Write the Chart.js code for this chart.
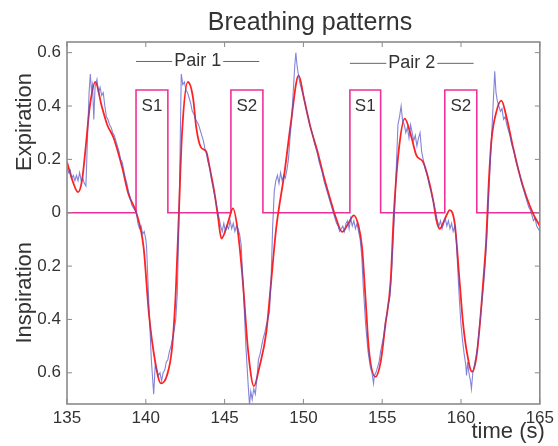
<!DOCTYPE html>
<html>
<head>
<meta charset="utf-8">
<script src="https://cdn.jsdelivr.net/npm/chart.js@4"></script>
<style>
    html, body { margin:0; padding:0; background:#fff; }
    #wrap { width:558px; height:446px; }
</style>
</head>
<body>
<div id="wrap"><canvas id="grafico" width="558" height="446"></canvas></div>
<script>

// =====================================
// DADOS
// =====================================

const xTicks = [135,140,145,150,155,160,165];
const yTicks = [-0.6,-0.4,-0.2,0,0.2,0.4,0.6];

// curva ajustada (vermelho)
const fitT = [
    135.0,135.35,135.7,135.95,136.16,136.45,136.8,137.2,137.55,137.96,
    138.5,138.9,139.4,139.86,140.2,140.6,140.96,141.34,141.66,141.9,
    142.1,142.3,142.67,143.0,143.2,143.5,143.83,144.05,144.37,144.58,
    144.8,145.2,145.53,145.84,146.16,146.48,146.86,147.2,147.64,147.95,
    148.27,148.8,149.2,149.7,150.03,150.45,150.87,151.3,151.72,152.04,
    152.46,152.85,153.2,153.5,153.72,153.94,154.15,154.57,154.9,155.2,
    155.53,155.74,156.05,156.43,156.85,157.17,157.6,157.9,158.23,158.44,
    158.65,159.0,159.29,159.6,159.92,160.13,160.35,160.7,160.98,161.2,
    161.4,161.6,161.75,161.93,162.25,162.56,162.88,163.3,163.7,164.15,
    164.57,165.0
];
const fitV = [
    0.19,0.12,0.077,0.12,0.23,0.40,0.49,0.40,0.33,0.28,
    0.17,0.07,0.0,-0.13,-0.38,-0.56,-0.64,-0.61,-0.51,-0.30,
    0.0,0.30,0.49,0.43,0.32,0.245,0.23,0.17,0.07,-0.015,
    -0.097,-0.04,0.016,-0.07,-0.26,-0.51,-0.65,-0.58,-0.45,-0.26,
    -0.06,0.15,0.335,0.515,0.43,0.32,0.234,0.134,0.047,-0.015,
    -0.072,-0.04,-0.01,-0.05,-0.13,-0.32,-0.51,-0.615,-0.56,-0.42,
    -0.26,0.0,0.234,0.353,0.284,0.215,0.19,0.134,0.047,-0.028,
    -0.06,-0.02,0.01,-0.04,-0.265,-0.415,-0.515,-0.596,-0.54,-0.415,
    -0.265,-0.1,0.1,0.27,0.38,0.42,0.36,0.246,0.147,0.06,
    -0.003,-0.05
];

// respiracao medida (azul)
const rawT = [
    135.0,135.1,135.2,135.3,135.4,135.5,135.6,135.7,135.8,135.9,
    136.0,136.1,136.2,136.3,136.4,136.48,136.55,136.62,136.7,136.78,
    136.9,137.0,137.1,137.2,137.3,137.4,137.5,137.6,137.7,137.8,
    137.9,138.0,138.1,138.2,138.3,138.4,138.5,138.6,138.7,138.8,
    138.9,139.0,139.1,139.2,139.3,139.4,139.5,139.6,139.7,139.8,
    139.9,140.0,140.05,140.2,140.35,140.5,140.6,140.7,140.8,140.9,
    141.0,141.1,141.2,141.3,141.4,141.5,141.6,141.7,141.8,141.9,
    142.0,142.1,142.18,142.25,142.35,142.45,142.55,142.65,142.75,142.85,
    142.95,143.05,143.15,143.25,143.35,143.45,143.55,143.65,143.75,143.85,
    143.95,144.05,144.15,144.25,144.35,144.45,144.55,144.65,144.75,144.85,
    144.95,145.05,145.15,145.25,145.35,145.45,145.55,145.65,145.75,145.85,
    145.95,146.05,146.2,146.35,146.5,146.58,146.66,146.75,146.85,146.95,
    147.05,147.15,147.25,147.35,147.45,147.55,147.65,147.75,147.85,147.95,
    148.05,148.15,148.25,148.35,148.45,148.55,148.65,148.75,148.85,148.95,
    149.05,149.15,149.25,149.35,149.45,149.52,149.6,149.7,149.8,149.9,
    150.0,150.1,150.2,150.3,150.4,150.5,150.6,150.7,150.8,150.9,
    151.0,151.1,151.2,151.3,151.4,151.5,151.6,151.7,151.8,151.9,
    152.0,152.1,152.2,152.3,152.4,152.5,152.6,152.7,152.8,152.9,
    153.0,153.1,153.2,153.3,153.4,153.5,153.6,153.7,153.8,153.95,
    154.1,154.25,154.35,154.45,154.5,154.6,154.7,154.8,154.9,155.0,
    155.1,155.2,155.3,155.4,155.5,155.6,155.7,155.8,155.9,156.0,
    156.1,156.2,156.3,156.4,156.5,156.6,156.7,156.8,156.9,157.0,
    157.1,157.2,157.3,157.4,157.5,157.6,157.7,157.8,157.9,158.0,
    158.1,158.2,158.3,158.4,158.5,158.6,158.7,158.8,158.9,159.0,
    159.1,159.2,159.3,159.4,159.5,159.6,159.7,159.8,159.9,160.0,
    160.1,160.2,160.3,160.35,160.42,160.5,160.6,160.66,160.75,160.85,
    160.95,161.05,161.15,161.25,161.35,161.45,161.55,161.65,161.75,161.85,
    161.95,162.05,162.14,162.22,162.3,162.4,162.5,162.6,162.7,162.8,
    162.9,163.0,163.1,163.2,163.3,163.4,163.5,163.6,163.7,163.8,
    163.9,164.0,164.1,164.2,164.3,164.4,164.5,164.6,164.7,164.8,
    164.9,165.0
];
const rawV = [
    0.17,0.15,0.16,0.13,0.14,0.12,0.14,0.12,0.15,0.12,
    0.13,0.11,0.10,0.28,0.45,0.52,0.46,0.48,0.35,0.47,
    0.50,0.45,0.47,0.44,0.45,0.40,0.36,0.35,0.33,0.32,
    0.30,0.29,0.27,0.25,0.23,0.20,0.19,0.16,0.13,0.11,
    0.08,0.06,0.03,0.02,0.01,0.00,-0.04,-0.06,-0.05,-0.08,
    -0.07,-0.10,-0.13,-0.35,-0.55,-0.68,-0.57,-0.59,-0.61,-0.60,
    -0.63,-0.60,-0.59,-0.56,-0.55,-0.52,-0.50,-0.47,-0.44,-0.40,
    -0.30,-0.05,0.25,0.52,0.48,0.49,0.46,0.45,0.43,0.41,
    0.38,0.37,0.35,0.34,0.33,0.31,0.29,0.27,0.24,0.22,
    0.19,0.17,0.13,0.10,0.07,0.04,0.01,-0.02,-0.05,-0.07,
    -0.04,-0.07,-0.05,-0.06,-0.03,-0.06,-0.04,-0.07,-0.05,-0.06,
    -0.08,-0.12,-0.30,-0.50,-0.65,-0.72,-0.67,-0.70,-0.66,-0.68,
    -0.62,-0.55,-0.53,-0.50,-0.47,-0.45,-0.42,-0.40,-0.37,-0.25,
    -0.05,0.08,0.12,0.14,0.11,0.15,0.12,0.14,0.13,0.16,
    0.20,0.28,0.35,0.45,0.55,0.60,0.55,0.51,0.48,0.46,
    0.44,0.41,0.38,0.36,0.33,0.31,0.29,0.26,0.24,0.22,
    0.19,0.17,0.15,0.12,0.10,0.08,0.06,0.04,0.02,0.00,
    -0.02,-0.04,-0.05,-0.07,-0.06,-0.05,-0.07,-0.04,-0.03,-0.06,
    -0.02,-0.05,-0.03,-0.06,-0.04,-0.07,-0.10,-0.16,-0.28,-0.42,
    -0.52,-0.58,-0.60,-0.64,-0.61,-0.60,-0.58,-0.56,-0.52,-0.49,
    -0.46,-0.41,-0.38,-0.34,-0.31,-0.22,-0.10,0.02,0.18,0.33,
    0.36,0.40,0.34,0.33,0.30,0.32,0.28,0.33,0.30,0.27,
    0.29,0.25,0.28,0.30,0.23,0.20,0.17,0.15,0.13,0.10,
    0.08,0.05,0.03,0.00,-0.03,-0.05,-0.03,-0.06,-0.04,-0.02,
    -0.05,-0.03,-0.06,-0.04,-0.07,-0.05,-0.10,-0.22,-0.33,-0.42,
    -0.48,-0.53,-0.57,-0.61,-0.56,-0.60,-0.63,-0.66,-0.60,-0.57,
    -0.54,-0.50,-0.44,-0.38,-0.32,-0.26,-0.18,-0.08,0.05,0.18,
    0.30,0.42,0.53,0.45,0.42,0.40,0.38,0.39,0.35,0.36,
    0.33,0.31,0.29,0.26,0.24,0.22,0.19,0.17,0.15,0.12,
    0.10,0.08,0.06,0.04,0.02,0.01,-0.01,-0.03,-0.02,-0.05,
    -0.06,-0.07
];

// estimulos (rosa)
const stimOn     = [139.38,145.4,152.95,158.97];
const stimOff    = [141.4,147.43,154.9,161.0];
const stimLabels = ["S1","S2","S1","S2"];
const stimLevel  = 0.46;

// pares
const pairLabels = ["Pair 1","Pair 2"];
const pairStart  = [139.38,152.95];
const pairEnd    = [147.2,160.8];
const pairLevel  = [0.567,0.56];


// =====================================
// MONTAGEM DAS SERIES
// =====================================

const fitData = fitT.map((t,i)=>({x:t,y:fitV[i]}));
const rawData = rawT.map((t,i)=>({x:t,y:rawV[i]}));

const stimData = [{x:xTicks[0],y:0}];
stimOn.forEach((t,i)=>{
    stimData.push({x:t,y:0});
    stimData.push({x:t,y:stimLevel});
    stimData.push({x:stimOff[i],y:stimLevel});
    stimData.push({x:stimOff[i],y:0});
});
stimData.push({x:xTicks[xTicks.length-1],y:0});


// =====================================
// MOLDURA / TEXTOS
// =====================================

const FONTE = "'Liberation Sans', Arial, sans-serif";
const CINZA = "#8a8a8a";
const TEXTO = "#333";

const moldura = {

    id:"moldura",

    afterDraw(chart){

        const ctx = chart.ctx;
        const a = chart.chartArea;
        const sx = chart.scales.x;
        const sy = chart.scales.y;

        ctx.save();

        // caixa
        ctx.strokeStyle = CINZA;
        ctx.lineWidth = 1.6;
        ctx.strokeRect(a.left,a.top,a.right-a.left,a.bottom-a.top);

        // ticks para dentro
        ctx.lineWidth = 1;
        ctx.beginPath();
        xTicks.forEach(v=>{
            const px = sx.getPixelForValue(v);
            ctx.moveTo(px,a.bottom); ctx.lineTo(px,a.bottom-5);
            ctx.moveTo(px,a.top);    ctx.lineTo(px,a.top+5);
        });
        yTicks.forEach(v=>{
            const py = sy.getPixelForValue(v);
            ctx.moveTo(a.left,py);  ctx.lineTo(a.left+5,py);
            ctx.moveTo(a.right,py); ctx.lineTo(a.right-5,py);
        });
        ctx.stroke();

        // titulo
        ctx.fillStyle = TEXTO;
        ctx.font = "25px " + FONTE;
        ctx.textAlign = "center";
        ctx.textBaseline = "alphabetic";
        ctx.fillText("Breathing patterns",310,30);

        // eixos
        ctx.textBaseline = "middle";
        ctx.font = "22px " + FONTE;
        ctx.save();
        ctx.translate(25,sy.getPixelForValue(0.34));
        ctx.rotate(-Math.PI/2);
        ctx.fillText("Expiration",0,0);
        ctx.restore();

        ctx.save();
        ctx.translate(25,sy.getPixelForValue(-0.30));
        ctx.rotate(-Math.PI/2);
        ctx.fillText("Inspiration",0,0);
        ctx.restore();

        ctx.textAlign = "right";
        ctx.fillText("time (s)",a.right+5,432);

        // rotulos dos estimulos
        ctx.font = "17px " + FONTE;
        ctx.textAlign = "center";
        stimLabels.forEach((s,i)=>{
            const cx = (sx.getPixelForValue(stimOn[i])+sx.getPixelForValue(stimOff[i]))/2;
            ctx.fillText(s,cx,sy.getPixelForValue(0.40));
        });

        // pares
        ctx.font = "18px " + FONTE;
        ctx.strokeStyle = "#666";
        ctx.lineWidth = 1;
        pairLabels.forEach((p,i)=>{
            const x0 = sx.getPixelForValue(pairStart[i]);
            const x1 = sx.getPixelForValue(pairEnd[i]);
            const py = sy.getPixelForValue(pairLevel[i]);
            const cx = (x0+x1)/2;
            const w = ctx.measureText(p).width;
            ctx.fillText(p,cx,py);
            ctx.beginPath();
            ctx.moveTo(x0,py); ctx.lineTo(cx-w/2-2,py);
            ctx.moveTo(cx+w/2+2,py); ctx.lineTo(x1,py);
            ctx.stroke();
        });

        ctx.restore();

    }

};


// =====================================
// GRAFICO
// =====================================

new Chart(document.getElementById("grafico"),{

    type:"line",

    data:{

        datasets:[

            {
                label:"Stimulus",
                data:stimData,
                borderColor:"#f0309a",
                borderWidth:1.6,
                pointRadius:0,
                tension:0,
                order:3
            },

            {
                label:"Fit",
                data:fitData,
                borderColor:"#ff2222",
                borderWidth:1.8,
                pointRadius:0,
                cubicInterpolationMode:"monotone",
                order:2
            },

            {
                label:"Breathing",
                data:rawData,
                borderColor:"rgba(80,80,200,0.7)",
                borderWidth:1.1,
                pointRadius:0,
                tension:0,
                order:1
            }

        ]

    },

    options:{

        responsive:false,
        animation:false,
        events:[],

        layout:{
            padding:{top:42,right:18,left:0,bottom:0}
        },

        plugins:{
            legend:{display:false},
            tooltip:{enabled:false},
            title:{display:false}
        },

        scales:{

            x:{
                type:"linear",
                min:135,
                max:165,
                afterFit:s=>{ s.height = 42; },
                afterBuildTicks:s=>{ s.ticks = xTicks.map(v=>({value:v})); },
                grid:{display:false,drawTicks:false},
                border:{display:false},
                ticks:{
                    padding:4,
                    color:TEXTO,
                    font:{family:FONTE,size:17}
                }
            },

            y:{
                type:"linear",
                min:-0.717,
                max:0.64,
                afterFit:s=>{ s.width = 67; },
                afterBuildTicks:s=>{ s.ticks = yTicks.map(v=>({value:v})); },
                grid:{display:false,drawTicks:false},
                border:{display:false},
                ticks:{
                    padding:6,
                    color:TEXTO,
                    font:{family:FONTE,size:17},
                    callback:v=> v===0 ? "0" : Math.abs(v).toFixed(1)
                }
            }

        }

    },

    plugins:[moldura]

});

</script>
</body>
</html>
